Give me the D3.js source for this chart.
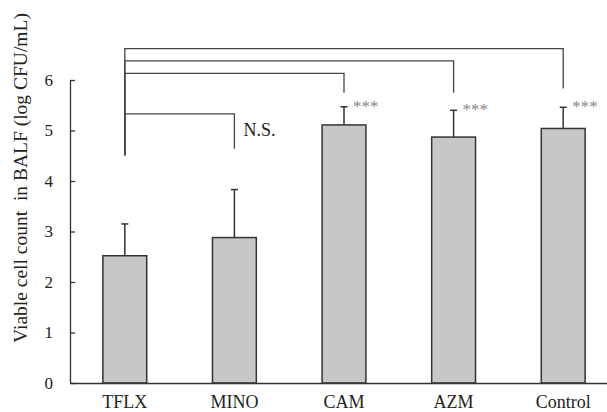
<!DOCTYPE html>
<html>
<head>
<meta charset="utf-8">
<script src="https://cdn.jsdelivr.net/npm/d3@7.9.0/dist/d3.min.js"></script>
<style>
  body { margin: 0; background: #fff; }
  svg { display: block; font-family: "Liberation Serif", "Times New Roman", serif; }
</style>
</head>
<body>
<div id="chart"></div>
<script>
const categories = ['TFLX', 'MINO', 'CAM', 'AZM', 'Control'];
const means = [2.52, 2.88, 5.11, 4.87, 5.04];
const sds = [0.63, 0.95, 0.36, 0.53, 0.42];
const yTicks = [0, 1, 2, 3, 4, 5, 6];

// comparison brackets against TFLX
const bracketTo = ['MINO', 'CAM', 'AZM', 'Control'];
const bracketLevel = [5.33, 6.13, 6.38, 6.62];
const bracketToEnd = [4.64, 5.75, 5.75, 5.83];
const bracketFromEnd = 4.51;
const sigLabels = ['N.S.', '***', '***', '***'];

const width = 607;
const height = 412;

const svg = d3.select('#chart')
    .append('svg')
    .attr('width', width)
    .attr('height', height);

const xScale = d3.scaleBand()
    .domain(categories)
    .range([70, 618])
    .paddingInner(0.6)
    .paddingOuter(0.3);

const yScale = d3.scaleLinear().domain([0, 6]).range([383, 80]);

const ink = '#333';

// bars
svg.append('g')
    .selectAll('rect')
    .data(categories)
    .join('rect')
    .attr('x', (d) => xScale(d))
    .attr('y', (d, i) => yScale(means[i]))
    .attr('width', xScale.bandwidth())
    .attr('height', (d, i) => yScale(0) - yScale(means[i]))
    .attr('fill', '#c6c7c9')
    .attr('stroke', ink)
    .attr('stroke-width', 1.5);

// error bars (upper only)
const cx = (d) => xScale(d) + xScale.bandwidth() / 2;
const err = svg.append('g').attr('stroke', ink).attr('stroke-width', 1.5);
err.selectAll('line.stem')
    .data(categories)
    .join('line')
    .attr('class', 'stem')
    .attr('x1', cx).attr('x2', cx)
    .attr('y1', (d, i) => yScale(means[i]))
    .attr('y2', (d, i) => yScale(means[i] + sds[i]));
err.selectAll('line.cap')
    .data(categories)
    .join('line')
    .attr('class', 'cap')
    .attr('x1', (d) => cx(d) - 3.5).attr('x2', (d) => cx(d) + 3.5)
    .attr('y1', (d, i) => yScale(means[i] + sds[i]))
    .attr('y2', (d, i) => yScale(means[i] + sds[i]));

// axes
const yAxis = svg.append('g')
    .attr('transform', 'translate(70,0)')
    .call(d3.axisLeft(yScale).tickValues(yTicks).tickFormat(d3.format('d'))
        .tickSize(-5).tickSizeOuter(0).tickPadding(17));
yAxis.attr('font-family', null).attr('font-size', null);
yAxis.selectAll('text').attr('font-size', 17).attr('fill', '#222');
yAxis.selectAll('line, path').attr('stroke', ink).attr('stroke-width', 1.3);

const xAxis = svg.append('g')
    .attr('transform', `translate(0,${yScale(0)})`)
    .call(d3.axisBottom(xScale).tickSize(0).tickSizeOuter(0).tickPadding(12));
xAxis.attr('font-family', null).attr('font-size', null);
xAxis.selectAll('text').attr('font-size', 18).attr('fill', '#222');
xAxis.select('path').attr('stroke', ink).attr('stroke-width', 1.5);

// brackets
svg.append('g')
    .selectAll('path')
    .data(bracketTo)
    .join('path')
    .attr('d', (d, i) => `M${cx('TFLX')},${yScale(bracketFromEnd)}V${yScale(bracketLevel[i])}H${cx(d)}V${yScale(bracketToEnd[i])}`)
    .attr('fill', 'none')
    .attr('stroke', '#444')
    .attr('stroke-width', 1.3);

// significance labels
svg.append('g')
    .selectAll('text')
    .data(bracketTo)
    .join('text')
    .attr('x', (d) => cx(d) + 9)
    .attr('y', (d, i) => {
        const k = categories.indexOf(d);
        return sigLabels[i] === 'N.S.'
            ? yScale(bracketToEnd[i]) - 13
            : yScale(means[k] + sds[k]) + 5;
    })
    .attr('font-size', (d, i) => sigLabels[i] === 'N.S.' ? 18 : 17)
    .attr('fill', (d, i) => sigLabels[i] === 'N.S.' ? '#222' : '#888')
    .text((d, i) => sigLabels[i]);

// y label
svg.append('text')
    .attr('transform', 'translate(27,178) rotate(-90)')
    .attr('text-anchor', 'middle')
    .attr('font-size', 19.5)
    .attr('fill', '#222')
    .style('white-space', 'pre')
    .text('Viable cell count  in BALF (log CFU/mL)');
</script>
</body>
</html>
